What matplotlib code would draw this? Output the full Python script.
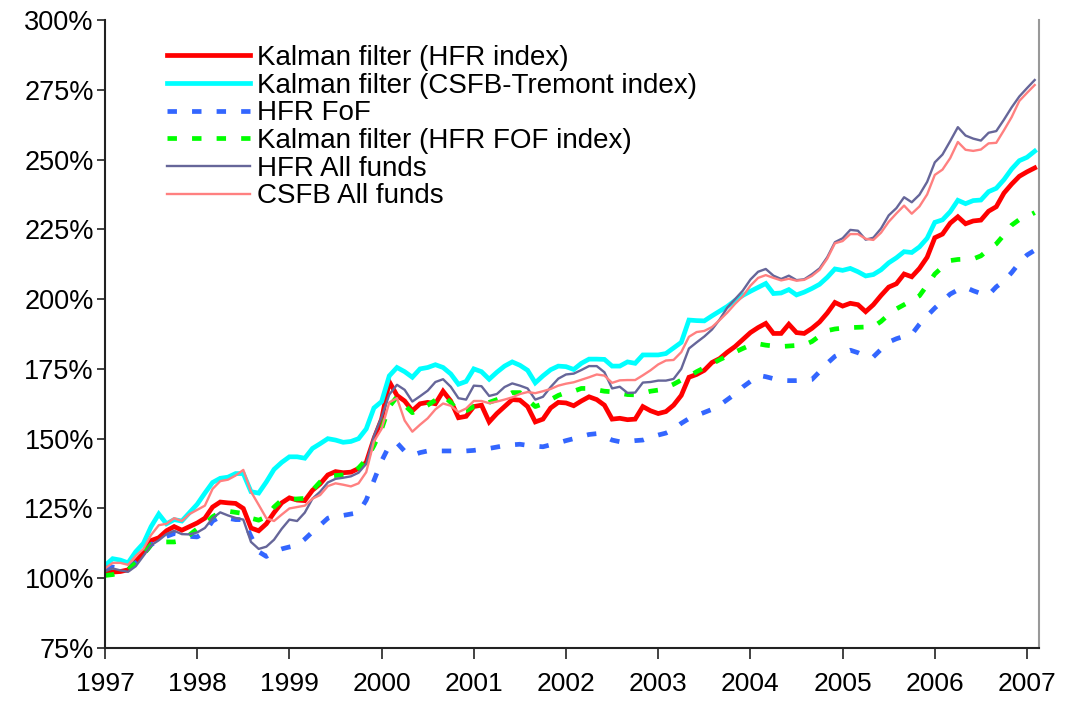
import numpy as np
import matplotlib
matplotlib.use("Agg")
import matplotlib.pyplot as plt
from matplotlib.ticker import FuncFormatter

plt.rcParams['font.family'] = ['Liberation Sans', 'DejaVu Sans']

# monthly observations, Jan 1997 .. Feb 2007 (values in %)
start_year = 1997
n_months = 122

kalman_hfr = [
    102, 102.2, 102.4, 103, 106, 109, 113.5, 114.5, 117, 118.5, 117.2, 118.5,
    119.8, 121.5, 125.5, 127.3, 127, 126.8, 125, 118, 117, 119.5, 123.5, 127,
    128.8, 128, 127.8, 131.5, 133.8, 137, 138.2, 137.8, 138, 139.3, 141.5, 150,
    157, 170.4, 165.5, 163.5, 160, 162.5, 163, 162.5, 167, 163.5, 157.5, 158,
    161.5, 162, 156, 159, 161.5, 164, 163.8, 161.5, 156, 157, 161, 163,
    162.8, 161.8, 163.5, 165, 164, 162, 157, 157.3, 156.8, 157, 161.5, 160,
    159, 159.7, 162, 165.5, 172, 173, 174.5, 177.3, 178.7, 181, 183, 185.5,
    188, 189.8, 191.3, 187.7, 187.7, 191, 188, 187.7, 189.5, 191.8, 195, 198.8,
    197.5, 198.5, 198, 195.5, 198, 201.3, 204.3, 205.5, 209, 208, 211, 215,
    222, 223.3, 227.2, 229.5, 227, 228, 228.3, 231.5, 233.1, 238, 241.2, 244,
    245.6, 247,
]

kalman_csfb = [
    104.5, 107, 106.5, 105.5, 109.5, 112.5, 118.5, 123, 119.5, 121, 120.5, 123.5,
    126.5, 130.5, 134.3, 135.8, 136.2, 137.5, 137.5, 131, 130.5, 134.5, 139, 141.5,
    143.5, 143.5, 143, 146.5, 148.2, 150, 149.5, 148.7, 149, 150, 153.5, 161,
    163.3, 172.5, 175.5, 174, 172, 175, 175.5, 176.5, 175.5, 173.2, 169.5, 170.5,
    175, 174, 171.3, 173.8, 176, 177.5, 176.3, 174.5, 170, 172.5, 174.7, 176,
    175.8, 174.8, 177, 178.5, 178.5, 178.4, 176, 176, 177.5, 177, 180, 180,
    180, 180.5, 182.5, 184.5, 192.5, 192.3, 192.2, 194, 195.7, 197.4, 199.5, 201.3,
    202.8, 204.2, 205.6, 202, 202.2, 203.4, 201.5, 202.5, 203.8, 205.3, 207.8, 210.8,
    210.3, 211, 209.8, 208.3, 208.8, 210.5, 213, 214.8, 217, 216.7, 218.7, 221.8,
    227.5, 228.4, 231.3, 235.4, 234.2, 235.3, 235.5, 238.5, 239.7, 242.8, 246.6, 249.6,
    250.8, 253,
]

hfr_fof = [
    103.5, 104, 103.5, 104, 105.5, 108.5, 112, 113.6, 115, 116, 115.5, 115,
    114.8, 116.5, 120.5, 122, 121.5, 121, 121, 115, 109.5, 107.8, 109.5, 110.5,
    111.2, 111.8, 114, 116.6, 119, 121.5, 122.5, 122.5, 123, 123.5, 128, 135,
    142, 147.5, 148.5, 145.5, 144, 145, 145.6, 145.6, 145.6, 145.6, 145.6, 145.6,
    145.8, 146.2, 146.5, 147, 147.5, 147.8, 148, 147.6, 147.3, 147.1, 147.8, 148.5,
    149.3, 150, 150.8, 151.5, 151.8, 150.8, 149.5, 148.9, 149, 149.3, 149.5, 150.5,
    151.3, 152, 153.3, 155.5, 157.2, 158.3, 159.4, 160.5, 162, 164, 166, 168.5,
    170.5, 172.7, 172.2, 171.5, 170.9, 170.8, 170.8, 170.9, 171.2, 174, 177, 179.5,
    180.8, 181.7, 180.8, 179.5, 179.3, 182, 184.6, 185.8, 186.7, 187.4, 191, 194,
    196.8, 199.3, 201.8, 203.3, 204.2, 203, 202, 201.5, 204.4, 206.5, 209.5, 213,
    215.8, 217.5,
]

kalman_hfr_fof = [
    101, 101.3, 102, 103, 105.5, 108.5, 112, 113, 113, 113, 113.5, 115.5,
    117.7, 119.5, 122, 123.7, 124, 123.6, 123.2, 121.5, 120.8, 122, 125.5, 128,
    128.3, 128.4, 128.6, 131.5, 134.5, 136.5, 136.8, 137, 137.3, 139.5, 142.5, 147.5,
    153.5, 161.5, 165, 162, 159.3, 160.5, 162, 163.8, 165.5, 163, 159.5, 160,
    161.5, 161.8, 163, 164, 165, 166.5, 166.5, 164, 161.5, 162.5, 164, 165.5,
    166.5, 167, 168, 168, 167.5, 167, 166.8, 166.3, 165.8, 165.7, 166.3, 167,
    167.4, 168.3, 169.5, 171, 172.3, 174, 175.4, 176.8, 178.3, 179.6, 181, 182.3,
    183.5, 184, 183.5, 183.2, 183, 183.2, 183.4, 183.6, 184.8, 186.8, 188.7, 189.3,
    189.6, 189.8, 189.9, 190, 190.1, 192, 194.5, 196.5, 198, 199.5, 201.2, 205,
    209, 211.5, 213.8, 214.2, 214.3, 214.4, 215.5, 217.8, 219.8, 223, 226.5, 228.5,
    229.5, 231,
]

hfr_all = [
    102.5, 103.5, 102.8, 102.3, 104.3, 108, 111.8, 113.6, 115.8, 117, 115.8, 115.7,
    116.4, 118, 121.5, 123.6, 122.5, 121.6, 121, 113, 110.5, 111.3, 113.8, 117.7,
    121, 120.5, 123.5, 128.5, 131, 134.3, 135.6, 136, 136.5, 137.8, 141, 151,
    157.8, 165.8, 169.3, 167.5, 163.3, 165.2, 167.2, 170.3, 171.3, 168.6, 164.5, 164,
    169, 168.8, 165.3, 166, 168.5, 169.8, 169, 168, 164, 165, 168.5, 171.5,
    173, 173.3, 174.6, 176, 176, 173.8, 168, 168.6, 166.4, 166.5, 170.1, 170.3,
    170.8, 170.8, 171.4, 175, 182.3, 184.5, 186.6, 189.1, 192.7, 197, 200, 203,
    207, 209.8, 210.8, 208.4, 207.2, 208.4, 206.8, 207.1, 208.9, 211, 215, 220.4,
    221.8, 224.8, 224.5, 221.3, 222, 225.3, 230, 232.6, 236.5, 234.7, 237.4, 242,
    249, 251.8, 256.6, 261.6, 258.6, 257.5, 256.8, 259.6, 260.2, 264.3, 268.7, 272.6,
    275.6, 278.5,
]

csfb_all = [
    103.5, 105.5, 105.5, 104.8, 108, 110.5, 115.5, 119, 119.5, 121.5, 120.5, 123,
    124.5, 126, 132, 134.8, 135.3, 136.8, 138.8, 131, 126.3, 121.5, 120.5, 122.8,
    125, 125.5, 126, 128.5, 129.8, 133, 134, 133.5, 132.9, 134, 138, 149,
    153.5, 163, 164.5, 156.5, 152.5, 155, 157.3, 160.5, 162.6, 161.8, 159.5, 160.8,
    163.5, 163.5, 162.7, 163.3, 164, 164.8, 166, 166.7, 166.3, 167, 167.8, 169,
    169.7, 170.2, 171.1, 172, 173, 172.6, 170, 170.9, 171, 171, 172.7, 174.5,
    176.6, 178, 178.2, 181, 186.5, 188.2, 188.6, 190, 192.5, 195.2, 198.3, 201,
    204.8, 207.6, 208.6, 207.6, 206.7, 207.3, 206.6, 206.9, 208.3, 210.5, 214.5, 220,
    220.8, 223.3, 223.3, 221.6, 221.2, 223.8, 227.7, 230.7, 233.5, 230.6, 233.2, 237.5,
    244.5, 246.4, 250.5, 256.3, 253.5, 253.1, 253.6, 255.8, 256, 260.5, 265.2, 271,
    273.9, 276.7,
]

labels = [
    "Kalman filter (HFR index)",
    "Kalman filter (CSFB-Tremont index)",
    "HFR FoF",
    "Kalman filter (HFR FOF index)",
    "HFR All funds",
    "CSFB All funds",
]
year_ticks = list(range(1997, 2008))
y_ticks = [75, 100, 125, 150, 175, 200, 225, 250, 275, 300]

t = start_year + np.arange(n_months) / 12.0

fig = plt.figure(figsize=(10.66, 7.02), dpi=100)
ax = fig.add_axes([105 / 1066, 1 - 648 / 702, (1039 - 105) / 1066, (648 - 20) / 702])

ax.plot(t, kalman_hfr, color='#ff0000', lw=3.4, label=labels[0], solid_joinstyle='miter')
ax.plot(t, kalman_csfb, color='#00ffff', lw=3.4, label=labels[1], solid_joinstyle='miter')
ax.plot(t, hfr_fof, color='#3366ff', lw=3.4, dashes=(2.0, 3.2), label=labels[2])
ax.plot(t, kalman_hfr_fof, color='#00ff00', lw=3.4, dashes=(2.0, 3.2), label=labels[3])
ax.plot(t, hfr_all, color='#666699', lw=1.7, label=labels[4])
ax.plot(t, csfb_all, color='#ff8080', lw=1.7, label=labels[5])

ax.set_xlim(1997, 2007.13)
ax.set_ylim(75, 300)
ax.set_xticks(year_ticks)
ax.set_xticklabels([str(y) for y in year_ticks])
ax.set_yticks(y_ticks)
ax.yaxis.set_major_formatter(FuncFormatter(lambda v, p: f"{int(v)}%"))

for s in ['left', 'bottom']:
    ax.spines[s].set_color('#222222')
    ax.spines[s].set_linewidth(1.5)
ax.spines['top'].set_visible(False)
ax.spines['right'].set_color('#999999')
ax.spines['right'].set_linewidth(1.5)

ax.tick_params(axis='y', direction='out', length=6, width=1.2, color='#222222',
               labelsize=19.5, pad=2)
ax.tick_params(axis='x', direction='out', length=8, width=1.2, color='#222222',
               labelsize=19, pad=9)

leg = ax.legend(loc='upper left', bbox_to_anchor=(62 / 934, 1 - 25 / 628),
                frameon=False, fontsize=20, handlelength=3.0, handletextpad=0.25,
                labelspacing=0.06, borderpad=0, borderaxespad=0)

fig.savefig('out.png', dpi=100)
